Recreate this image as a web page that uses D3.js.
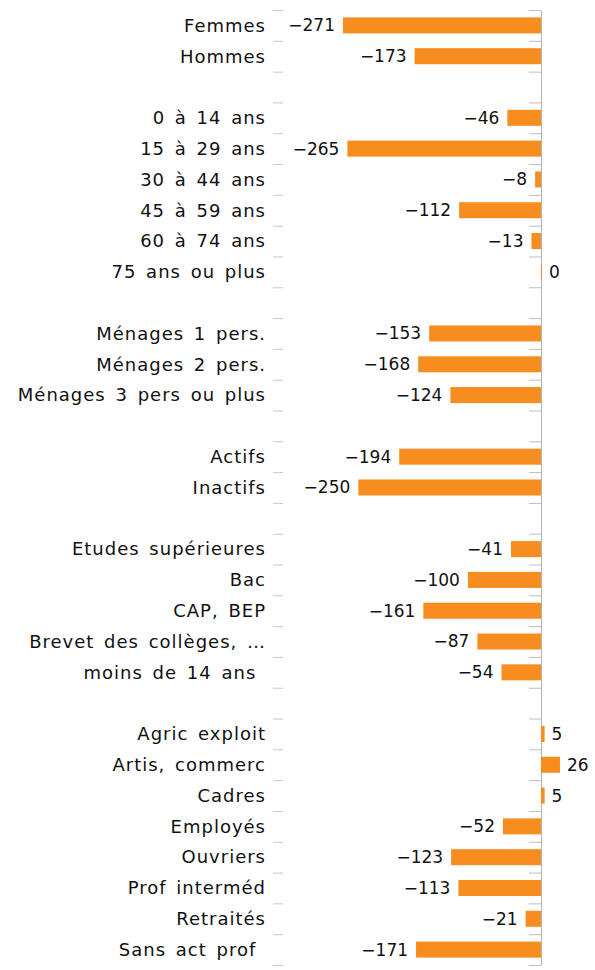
<!DOCTYPE html>
<html>
<head>
<meta charset="utf-8">
<script src="https://cdn.jsdelivr.net/npm/d3@7"></script>
<style>
  body { margin: 0; background: #fff; }
  text { font-family: "DejaVu Sans", sans-serif; fill: #111; white-space: pre; }
</style>
</head>
<body>
<div id="chart"></div>
<script>
// Categories, top to bottom ("" = empty separator row)
const categories = [
    'Femmes', 'Hommes', '',
    '0 à 14 ans', '15 à 29 ans', '30 à 44 ans', '45 à 59 ans', '60 à 74 ans', '75 ans ou plus', '',
    'Ménages 1 pers.', 'Ménages 2 pers.', 'Ménages 3 pers ou plus', '',
    'Actifs', 'Inactifs', '',
    'Etudes supérieures', 'Bac', 'CAP, BEP', 'Brevet des collèges, …', 'moins de 14 ans ', '',
    'Agric exploit', 'Artis, commerc', 'Cadres', 'Employés', 'Ouvriers', 'Prof interméd', 'Retraités', 'Sans act prof '
];

const values = [
    -271, -173, null,
    -46, -265, -8, -112, -13, 0, null,
    -153, -168, -124, null,
    -194, -250, null,
    -41, -100, -161, -87, -54, null,
    5, 26, 5, -52, -123, -113, -21, -171
];

const xDomain = [-300, 60];

function createBarChart(containerId)
{
    const width = 595;
    const height = 970;
    const top = 10, bottom = 965;

    const rows = categories.map((c, i) => ({ i: i, label: c, value: values[i] }));

    const svg = d3.select(containerId)
        .append('svg')
        .attr('width', width)
        .attr('height', height);

    // Scales
    const xScale = d3.scaleLinear()
        .domain(xDomain)
        .range([321.8, 584.8]);

    const yScale = d3.scaleBand()
        .domain(rows.map(d => d.i))
        .range([top, bottom])
        .paddingInner(0.48)
        .paddingOuter(0.24);

    // boundaries between rows, for the tick marks
    const yTicks = d3.scaleLinear()
        .domain([0, rows.length])
        .range([top, bottom]);

    const x0 = xScale(0);

    // Left ticks (near the labels)
    const leftAxis = svg.append('g')
        .attr('transform', 'translate(283,0)')
        .call(d3.axisLeft(yTicks).tickValues(d3.range(rows.length + 1)).tickFormat('').tickSize(10));
    leftAxis.select('.domain').remove();
    leftAxis.selectAll('line').attr('stroke', '#c8c8c8');

    // Zero axis with ticks
    const zeroAxis = svg.append('g')
        .attr('transform', `translate(${x0},0)`)
        .call(d3.axisLeft(yTicks).tickValues(d3.range(rows.length + 1)).tickFormat('').tickSizeInner(12).tickSizeOuter(0));
    zeroAxis.select('.domain').attr('stroke', '#b0b0b0');
    zeroAxis.selectAll('line').attr('stroke', '#bdbdbd');

    const data = rows.filter(d => d.value !== null);

    // Bars
    svg.append('g')
        .selectAll('rect')
        .data(data)
        .enter()
        .append('rect')
        .attr('x', d => Math.min(xScale(d.value), x0))
        .attr('y', d => yScale(d.i))
        .attr('width', d => Math.max(1, Math.abs(xScale(d.value) - x0)))
        .attr('height', yScale.bandwidth())
        .attr('fill', '#F78D1E');

    // Category labels
    svg.append('g')
        .selectAll('text')
        .data(rows.filter(d => d.label !== ''))
        .enter()
        .append('text')
        .attr('x', 266)
        .attr('y', d => yScale(d.i) + yScale.bandwidth() / 2)
        .attr('dy', '0.35em')
        .attr('text-anchor', 'end')
        .style('font-size', '18px')
        .style('letter-spacing', '1px')
        .style('word-spacing', '3px')
        .text(d => d.label);

    // Value labels
    svg.append('g')
        .selectAll('text')
        .data(data)
        .enter()
        .append('text')
        .attr('x', d => d.value < 0 ? xScale(d.value) - 8 : Math.max(xScale(d.value), x0 + 1) + 7)
        .attr('y', d => yScale(d.i) + yScale.bandwidth() / 2)
        .attr('dy', '0.35em')
        .attr('text-anchor', d => d.value < 0 ? 'end' : 'start')
        .style('font-size', '17px')
        .text(d => d.value < 0 ? '\u2212' + Math.abs(d.value) : d.value);
}

createBarChart('#chart');
</script>
</body>
</html>
